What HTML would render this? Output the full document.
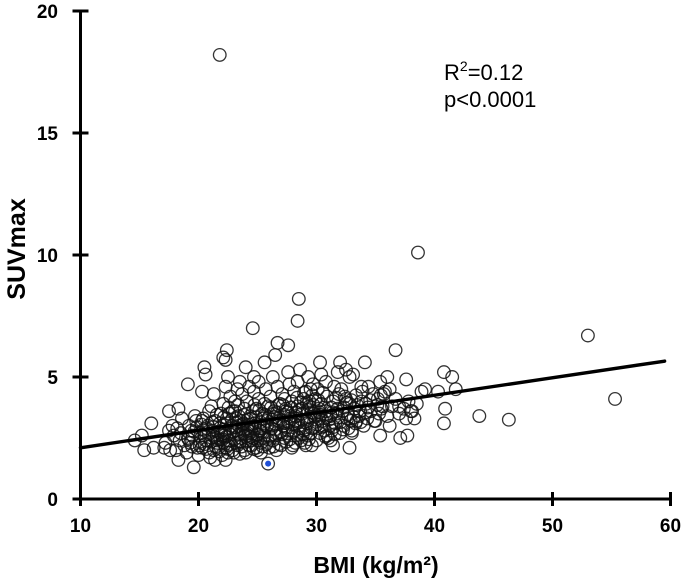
<!DOCTYPE html>
<html><head><meta charset="utf-8"><style>
html,body{margin:0;padding:0;background:#fff;}
svg{display:block;font-family:"Liberation Sans",sans-serif;}
</style></head><body>
<svg id="chart" width="685" height="584" viewBox="0 0 685 584" xmlns="http://www.w3.org/2000/svg">
<g id="marks"></g>
<line id="fit" stroke="#000" stroke-width="3.4" stroke-linecap="round"/>
<g id="axes"></g>
<text x="444" y="80" font-size="22">R<tspan dy="-9" font-size="14">2</tspan><tspan dy="9">=0.12</tspan></text>
<text x="444" y="107" font-size="22">p&lt;0.0001</text>
<text x="376" y="573" font-size="23" font-weight="bold" text-anchor="middle">BMI (kg/m²)</text>
<text transform="translate(25,249) rotate(-90)" font-size="25" font-weight="bold" text-anchor="middle">SUVmax</text>
</svg>
<script>
const xTicks=[10,20,30,40,50,60];
const yTicks=[0,5,10,15,20];
const fitLine=[[10,2.1],[59.5,5.65]];
const highlight=[[25.9,1.45]];
const outliers=[[21.8,18.2],[38.6,10.1],[28.5,8.2],[28.4,7.3],[24.6,7.0],[53,6.7],[26.7,6.4],[27.6,6.3],[36.7,6.1],[22.4,6.1],[22.1,5.8],[22.3,5.7],[26.5,5.9],[55.3,4.1],[46.3,3.25],[43.8,3.4],[40.8,3.1],[40.9,3.7],[40.8,5.2],[41.5,5.0],[41.8,4.5],[40.3,4.4],[39.2,4.5],[38.9,4.4],[37.6,4.9],[36.0,5.0],[35.4,4.8],[34.1,5.6],[32.0,5.6],[30.3,5.6],[25.6,5.6],[24.0,5.4],[20.5,5.4],[20.6,5.1],[19.1,4.7],[20.3,4.4],[17.5,3.6],[16.0,3.1],[14.6,2.4],[15.2,2.6],[15.4,2.0],[16.2,2.1],[17.6,2.0],[18.3,1.6],[19.6,1.3],[21.4,1.6],[22.3,1.6],[32.8,2.1],[31.4,2.2],[35.4,2.6],[37.1,2.5],[37.7,2.6],[36.2,3.0],[37.6,3.3],[38.3,3.3],[33.0,2.7],[28.2,2.3],[29.1,2.2],[30.9,2.6],[32.5,5.3],[32.8,5.0],[33.8,4.6],[35.7,4.3],[37.0,3.8],[38.0,3.6]];
const cluster=[
[17.2,2.3],[17.5,2.8],[17.8,3.0],[17.1,2.1],[17.9,2.6],
[18.1,2.0],[18.4,2.4],[18.2,2.9],[18.6,3.3],[18.3,3.7],[18.8,2.2],[18.5,2.7],
[19.0,1.9],[19.3,2.3],[19.5,2.6],[19.2,3.0],[19.7,3.4],[19.9,2.1],[19.4,2.8],[19.8,3.2],[19.1,2.5],
[20.0,1.8],[20.3,2.1],[20.6,2.4],[20.2,2.7],[20.8,3.0],[20.4,3.3],[20.9,3.6],[20.1,2.2],[20.7,2.9],[20.5,2.6],[20.9,1.9],[20.3,3.2],
[21.0,1.7],[21.3,2.0],[21.6,2.3],[21.2,2.6],[21.8,2.9],[21.4,3.2],[21.9,3.5],[21.1,3.8],[21.7,2.1],[21.5,2.5],[21.2,2.8],[21.8,3.1],[21.3,4.3],[21.6,2.4],
[22.0,1.8],[22.3,2.1],[22.6,2.4],[22.2,2.7],[22.8,3.0],[22.4,3.3],[22.9,3.6],[22.1,3.9],[22.7,4.2],[22.5,2.2],[22.2,2.6],[22.8,2.9],[22.4,3.1],[22.6,3.5],[22.3,4.6],[22.9,2.0],[22.5,5.0],
[23.0,1.9],[23.3,2.2],[23.6,2.5],[23.2,2.8],[23.8,3.1],[23.4,3.4],[23.9,3.7],[23.1,4.0],[23.7,4.3],[23.5,4.8],[23.2,2.3],[23.8,2.7],[23.4,3.0],[23.6,3.2],[23.1,3.6],[23.9,2.0],[23.3,4.5],[23.7,2.9],
[24.0,1.9],[24.3,2.2],[24.6,2.5],[24.2,2.8],[24.8,3.1],[24.4,3.4],[24.9,3.7],[24.1,4.0],[24.7,4.4],[24.5,2.4],[24.2,2.6],[24.8,3.0],[24.4,3.3],[24.9,2.1],[24.6,3.6],[24.3,4.6],[24.7,5.0],
[25.0,2.0],[25.3,2.3],[25.6,2.6],[25.2,2.9],[25.8,3.2],[25.4,3.5],[25.9,3.8],[25.1,4.1],[25.7,4.5],[25.5,2.5],[25.2,2.8],[25.8,3.0],[25.4,3.3],[25.3,1.9],[25.6,3.9],[25.1,4.8],
[26.0,2.1],[26.3,2.4],[26.6,2.7],[26.2,3.0],[26.8,3.3],[26.4,3.6],[26.9,3.9],[26.1,4.2],[26.7,4.6],[26.5,2.6],[26.2,2.9],[26.8,3.2],[26.4,3.5],[26.6,2.0],[26.3,5.0],
[27.0,2.2],[27.3,2.5],[27.6,2.8],[27.2,3.1],[27.8,3.4],[27.4,3.7],[27.9,4.0],[27.1,4.3],[27.7,4.7],[27.5,2.7],[27.2,3.0],[27.8,3.3],[27.4,3.6],[27.6,5.2],[27.9,2.1],
[28.0,2.2],[28.3,2.6],[28.6,2.9],[28.2,3.2],[28.8,3.5],[28.4,3.8],[28.9,4.1],[28.1,4.4],[28.7,2.4],[28.5,3.0],[28.2,3.4],[28.8,3.7],[28.4,4.8],[28.6,5.3],[28.9,2.8],
[29.0,2.3],[29.3,2.6],[29.6,2.9],[29.2,3.2],[29.8,3.5],[29.4,3.8],[29.9,4.1],[29.1,4.4],[29.7,4.7],[29.5,2.7],[29.2,3.1],[29.8,3.4],[29.4,4.0],[29.6,2.2],[29.3,5.0],
[30.0,2.4],[30.3,2.7],[30.6,3.0],[30.2,3.3],[30.8,3.6],[30.4,3.9],[30.9,4.2],[30.1,4.5],[30.7,2.8],[30.5,3.2],[30.2,3.7],[30.8,4.8],[30.4,5.1],
[31.0,2.5],[31.3,2.8],[31.6,3.1],[31.2,3.4],[31.8,3.7],[31.4,4.0],[31.9,4.3],[31.1,3.0],[31.7,3.5],[31.5,4.6],[31.2,2.4],[31.8,5.2],
[32.0,2.7],[32.3,3.0],[32.6,3.3],[32.2,3.6],[32.8,3.9],[32.4,4.2],[32.9,3.2],[32.1,4.5],[32.7,2.9],[32.5,4.1],
[33.0,2.8],[33.3,3.1],[33.6,3.4],[33.2,3.7],[33.8,4.0],[33.4,3.2],[33.9,4.4],[33.1,5.1],[33.7,3.6],
[34.0,3.0],[34.3,3.3],[34.6,3.6],[34.2,3.9],[34.8,4.3],[34.4,4.6],[34.9,3.2],
[35.0,3.2],[35.3,3.5],[35.6,3.8],[35.2,4.1],[35.8,4.4],[35.5,3.7],
[36.0,3.4],[36.4,3.8],[36.7,4.1],[36.2,4.5],[37.0,3.5],[37.4,3.7],[37.8,4.0],[38.1,3.6],[38.5,3.9]
];
const clusterCore=[
[19.15,2.45],[19.45,2.15],[19.65,2.75],[19.85,2.95],[20.15,2.35],[20.45,2.85],[20.65,2.05],[20.85,2.65],[20.25,3.05],[20.55,2.25],
[21.05,2.35],[21.25,2.95],[21.45,2.15],[21.65,2.75],[21.85,2.45],[21.15,3.15],[21.55,3.45],[21.75,1.95],[21.35,2.55],[21.95,2.65],
[22.05,2.45],[22.25,2.85],[22.45,2.05],[22.65,2.65],[22.85,3.25],[22.15,3.35],[22.35,2.55],[22.55,3.75],[22.75,2.25],[22.95,2.75],[22.5,1.9],[22.1,2.3],
[23.05,2.45],[23.25,3.15],[23.45,2.65],[23.65,2.15],[23.85,3.45],[23.15,2.95],[23.35,3.85],[23.55,2.35],[23.75,3.05],[23.95,2.55],[23.5,1.85],[23.2,3.3],
[24.05,2.35],[24.25,3.05],[24.45,2.75],[24.65,2.05],[24.85,3.35],[24.15,3.25],[24.35,2.55],[24.55,2.95],[24.75,3.85],[24.95,2.65],[24.5,2.2],[24.1,2.9],
[25.05,2.65],[25.25,3.15],[25.45,2.15],[25.65,3.45],[25.85,2.45],[25.15,3.65],[25.35,2.75],[25.55,3.05],[25.75,2.25],[25.95,3.35],[25.5,2.9],[25.0,2.4],
[26.05,2.55],[26.25,3.25],[26.45,2.85],[26.65,3.55],[26.85,2.25],[26.15,3.75],[26.35,2.15],[26.55,3.05],[26.75,3.85],[26.95,2.75],[26.4,3.35],
[27.05,2.65],[27.25,3.45],[27.45,2.35],[27.65,3.15],[27.85,3.75],[27.15,3.85],[27.35,2.95],[27.55,3.55],[27.75,2.45],[27.95,3.05],[27.3,4.1],
[28.05,2.75],[28.25,3.55],[28.45,3.15],[28.65,3.95],[28.85,2.65],[28.15,3.05],[28.35,4.15],[28.55,3.65],[28.75,3.25],[28.95,4.35],[28.5,2.5],
[29.05,2.85],[29.25,3.65],[29.45,3.35],[29.65,4.25],[29.85,2.95],[29.15,3.95],[29.35,2.45],[29.55,3.55],[29.75,3.85],[29.95,3.25],[29.5,4.5],
[30.05,3.05],[30.25,3.55],[30.45,2.95],[30.65,3.75],[30.85,3.35],[30.15,4.05],[30.35,3.45],[30.55,4.35],[30.75,2.55],
[31.05,3.25],[31.25,3.75],[31.45,2.95],[31.65,4.15],[31.85,3.35],[31.35,3.55],[31.55,2.65],
[32.05,3.15],[32.35,3.75],[32.65,3.45],[32.95,4.05],[32.25,2.85],[32.55,3.95],
[33.15,3.35],[33.45,3.85],[33.75,3.15],[33.35,4.25],[34.15,3.55],[34.55,4.05],[34.35,3.75],[35.15,3.85],[35.45,4.25]
];
const X0=80.5,X1=670.5,Y0=499,Y1=11;
function xs(v){return X0+(v-10)*(X1-X0)/50;}
function ys(v){return Y0-v*(Y0-Y1)/20;}
const NS='http://www.w3.org/2000/svg';
const marks=document.getElementById('marks');
function addPt(p,fill,name){
  const c=document.createElementNS(NS,'circle');
  c.setAttribute('cx',xs(p[0]));c.setAttribute('cy',ys(p[1]));c.setAttribute('r',6.3);
  c.setAttribute('fill',fill);c.setAttribute('stroke','#111');c.setAttribute('stroke-width','1.3');c.setAttribute('stroke-opacity','0.85');
  
  
  marks.appendChild(c);
}
cluster.forEach(p=>addPt(p,'none','data-point'));
clusterCore.forEach(p=>addPt(p,'none','data-point'));
outliers.forEach(p=>addPt(p,'none','outlier-point'));
highlight.forEach(p=>{
  addPt(p,'#fff','highlighted-point');
  const d=document.createElementNS(NS,'circle');
  d.setAttribute('cx',xs(p[0]));d.setAttribute('cy',ys(p[1]));d.setAttribute('r',3);d.setAttribute('fill','#1f4fd6');
  
  
  marks.appendChild(d);
});
const fit=document.getElementById('fit');
fit.setAttribute('x1',xs(fitLine[0][0]));fit.setAttribute('y1',ys(fitLine[0][1]));
fit.setAttribute('x2',xs(fitLine[1][0]));fit.setAttribute('y2',ys(fitLine[1][1]));
const axes=document.getElementById('axes');
function line(x1,y1,x2,y2,w,name){
  const l=document.createElementNS(NS,'line');
  l.setAttribute('x1',x1);l.setAttribute('y1',y1);l.setAttribute('x2',x2);l.setAttribute('y2',y2);
  l.setAttribute('stroke','#000');l.setAttribute('stroke-width',w);
  
  
  axes.appendChild(l);
}
function txt(x,y,s,anchor,name){
  const t=document.createElementNS(NS,'text');
  t.setAttribute('x',x);t.setAttribute('y',y);t.setAttribute('font-size','19');t.setAttribute('font-weight','bold');t.setAttribute('text-anchor',anchor);
  t.textContent=s;
  
  
  axes.appendChild(t);
}
line(X0,Y1,X0,Y0+1.5,3,'y-axis-line');
line(X0-1.5,Y0,X1+1,Y0,3,'x-axis-line');
yTicks.forEach(v=>{line(X0-8,ys(v),X0+8,ys(v),3,'y-tick');txt(58,ys(v)+7,String(v),'end','y-tick-label');});
xTicks.forEach(v=>{line(xs(v),Y0-7,xs(v),Y0+7,3,'x-tick');txt(xs(v),Y0+33,String(v),'middle','x-tick-label');});
</script>
</body></html>
